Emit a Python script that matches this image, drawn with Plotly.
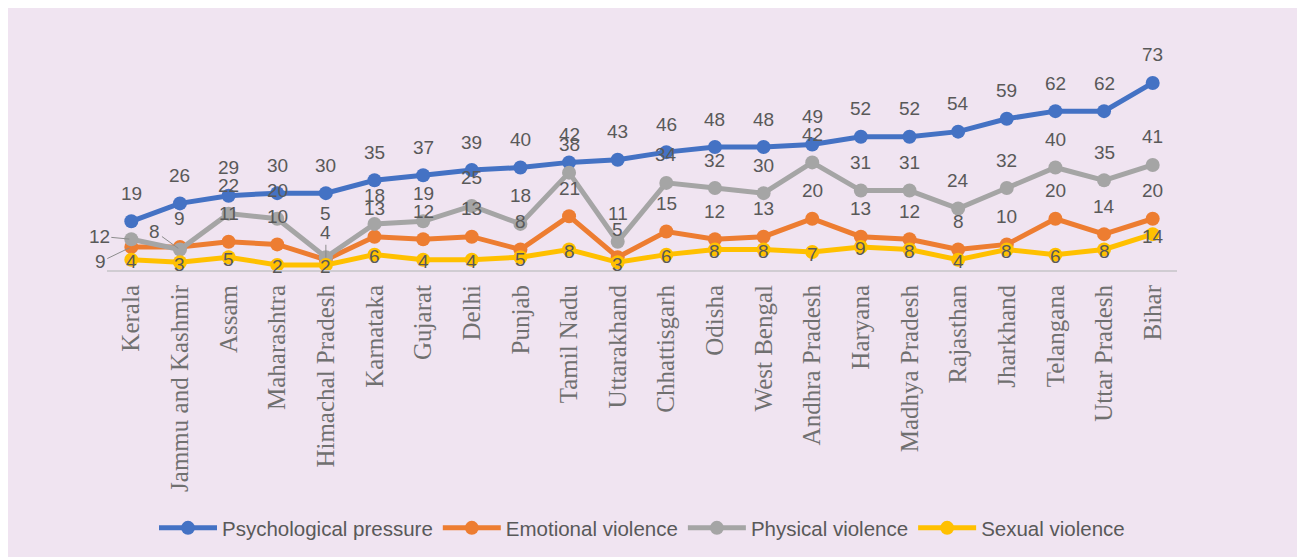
import plotly.graph_objects as go

states = ["Kerala", "Jammu and Kashmir", "Assam", "Maharashtra", "Himachal Pradesh",
          "Karnataka", "Gujarat", "Delhi", "Punjab", "Tamil Nadu", "Uttarakhand",
          "Chhattisgarh", "Odisha", "West Bengal", "Andhra Pradesh", "Haryana",
          "Madhya Pradesh", "Rajasthan", "Jharkhand", "Telangana", "Uttar Pradesh", "Bihar"]
psychological = [19, 26, 29, 30, 30, 35, 37, 39, 40, 42, 43, 46, 48, 48, 49, 52, 52, 54, 59, 62, 62, 73]
emotional = [9, 9, 11, 10, 4, 13, 12, 13, 8, 21, 5, 15, 12, 13, 20, 13, 12, 8, 10, 20, 14, 20]
physical = [12, 8, 22, 20, 5, 18, 19, 25, 18, 38, 11, 34, 32, 30, 42, 31, 31, 24, 32, 40, 35, 41]
sexual = [4, 3, 5, 2, 2, 6, 4, 4, 5, 8, 3, 6, 8, 8, 7, 9, 8, 4, 8, 6, 8, 14]

series = [
    ("Psychological pressure", psychological, "#4472C4", 28),
    ("Emotional violence", emotional, "#ED7D31", 28),
    ("Physical violence", physical, "#A5A5A5", 28),
    ("Sexual violence", sexual, "#FFC000", -2),
]

# special label placements (style only): (series name, index) -> (ax, ay, leader)
special = {
    ("Physical violence", 0): (-32, -3, True),
    ("Emotional violence", 0): (-31, 15, True),
    ("Physical violence", 1): (-25, -18, True),
    ("Emotional violence", 4): (0, -27, True),
    ("Physical violence", 4): (0, -44, False),
}

LABEL_COLOR = "#595959"
LABEL_FONT = dict(family="Liberation Sans", size=19, color=LABEL_COLOR)
fig = go.Figure()
annotations = []
for name, vals, color, shift in series:
    fig.add_trace(go.Scatter(
        x=states, y=vals, name=name, mode="lines+markers",
        line=dict(color=color, width=5),
        marker=dict(color=color, size=14),
    ))
    for i, (s, v) in enumerate(zip(states, vals)):
        key = (name, i)
        if key in special:
            ax, ay, leader = special[key]
            if leader:
                annotations.append(dict(
                    x=s, y=v, xref="x", yref="y", text=str(v), showarrow=True,
                    arrowhead=0, arrowwidth=1, arrowcolor="#8c8c8c", ax=ax, ay=ay,
                    standoff=2, font=LABEL_FONT))
            else:
                annotations.append(dict(
                    x=s, y=v, xref="x", yref="y", text=str(v), showarrow=False,
                    xshift=ax, yshift=-ay, font=LABEL_FONT))
        else:
            annotations.append(dict(
                x=s, y=v, xref="x", yref="y", text=str(v), showarrow=False,
                yshift=shift, font=LABEL_FONT))

W, H = 1297, 549
L, R, T, B = 99, 128, 57, 287

fig.update_layout(
    width=W, height=H,
    margin=dict(l=L, r=R, t=T, b=B),
    paper_bgcolor="#F0E4F1",
    plot_bgcolor="rgba(0,0,0,0)",
    annotations=annotations,
    xaxis=dict(
        type="category", range=[-0.5, len(states) - 0.5],
        showgrid=False, zeroline=False, showline=True, linecolor="#D0CCD2", linewidth=2,
        ticks="", tickangle=-90, ticklabelstandoff=3,
        tickfont=dict(family="Liberation Serif", size=25, color="#707070"),
    ),
    yaxis=dict(range=[0, 80], showgrid=False, zeroline=False, showline=False,
               showticklabels=False, ticks=""),
    showlegend=True,
    legend=dict(orientation="h", xref="paper", x=0.5, xanchor="center",
                yref="container", y=1 - 520 / H, yanchor="middle",
                font=dict(family="Liberation Sans", size=20.5, color=LABEL_COLOR),
                bgcolor="rgba(0,0,0,0)", itemwidth=58, tracegroupgap=0),
)

fig.write_html("out.html")
